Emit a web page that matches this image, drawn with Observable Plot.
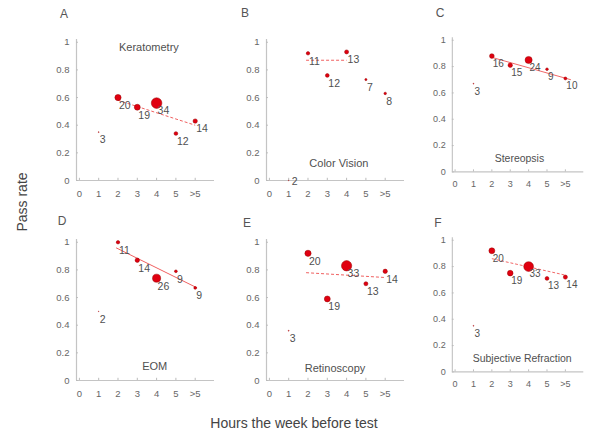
<!DOCTYPE html>
<html>
<head>
<meta charset="utf-8">
<script src="https://cdn.jsdelivr.net/npm/d3@7"></script>
<script src="https://cdn.jsdelivr.net/npm/@observablehq/plot@0.6"></script>
<style>
  html, body { margin: 0; padding: 0; background: #fff; overflow: hidden; }
  #root { position: relative; width: 589px; height: 434px; font-family: "Liberation Sans", Arial, sans-serif; }
  .panel { position: absolute; }
  .lbl { position: absolute; color: #555; font-size: 12px; transform: translate(-50%, -50%); white-space: nowrap; }
  .title { position: absolute; color: #444; font-size: 14px; transform: translate(-50%, -50%); white-space: nowrap; }
</style>
</head>
<body>
<div id="root"></div>
<script>
// ---- data ----
const panelLetters = ["A", "B", "C", "D", "E", "F"];
const panelTitles = ["Keratometry", "Color Vision", "Stereopsis", "EOM", "Retinoscopy", "Subjective Refraction"];
const hours = [1, 2, 3, 4, 5, 6];
const xTicks = [0, 1, 2, 3, 4, 5, 6];
const xTickLabels = ["0", "1", "2", "3", "4", "5", ">5"];
const yTicks = [0, 0.2, 0.4, 0.6, 0.8, 1];
const yTickLabels = ["0", "0.2", "0.4", "0.6", "0.8", "1"];

const passA = [0.35, 0.60, 0.53, 0.56, 0.34, 0.43];
const countA = [3, 20, 19, 34, 12, 14];
const passB = [0.00, 0.92, 0.76, 0.93, 0.73, 0.63];
const countB = [2, 11, 12, 13, 7, 8];
const passC = [0.67, 0.88, 0.81, 0.85, 0.78, 0.71];
const countC = [3, 16, 15, 24, 9, 10];
const passD = [0.50, 1.00, 0.87, 0.74, 0.79, 0.67];
const countD = [2, 11, 14, 26, 9, 9];
const passE = [0.36, 0.92, 0.59, 0.83, 0.70, 0.79];
const countE = [3, 20, 19, 33, 13, 14];
const passF = [0.35, 0.92, 0.75, 0.80, 0.71, 0.72];
const countF = [3, 20, 19, 33, 13, 14];

// fitted trend lines (start/end hours and pass rates)
const fitX1 = [2, 1.9, 2, 1.9, 1.9, 2];
const fitY1 = [0.58, 0.87, 0.87, 0.96, 0.78, 0.86];
const fitX2 = [6, 4, 6.3, 6.1, 6, 6];
const fitY2 = [0.40, 0.87, 0.70, 0.67, 0.745, 0.735];

const passAll = [passA, passB, passC, passD, passE, passF];
const countAll = [countA, countB, countC, countD, countE, countF];

// ---- layout ----
const panelLeft = [52, 242, 429, 52, 242, 429];
const panelTop = [0, 0, 0, 200, 200, 200];
const titlePos = [[3.6, 0.96], [3.6, 0.12], [3.5, 0.10], [3.9, 0.10], [3.4, 0.085], [3.65, 0.10]];
const titleDash = [true, true, false, false, true, true];
const letterPos = [[64, 14], [245, 13], [440, 13], [62, 221], [247, 223], [438, 223]];

const root = document.getElementById("root");
const xMin = -0.15;

for (let i = 0; i < 6; i++) {
  const data = hours.map((h, j) => ({h, p: passAll[i][j], n: countAll[i][j]}));
  const fit = [{x1: fitX1[i], y1: fitY1[i], x2: fitX2[i], y2: fitY2[i]}];
  const chart = Plot.plot({
    width: 168,
    height: 200,
    marginLeft: 24,
    marginRight: 6,
    marginTop: 39,
    marginBottom: 20,
    style: {fontFamily: "'Liberation Sans', Arial, sans-serif", background: "transparent", overflow: "visible"},
    x: {domain: [xMin, 7], axis: null},
    y: {domain: [0, 1.02], axis: null},
    r: {type: "linear", domain: [0, 34], range: [0, 5.3]},
    marks: [
      Plot.ruleY([0], {x1: xMin, x2: 7, stroke: "#c4c4c4", strokeWidth: 1.2}),
      Plot.ruleX([xMin], {y1: 0, y2: 1.02, stroke: "#c4c4c4", strokeWidth: 1.2}),
      Plot.ruleY(yTicks, {y: d => d, x1: xMin, x2: xMin + 0.1, stroke: "#bbb"}),
      Plot.ruleX(xTicks, {x: d => d, y1: 0, y2: 0.016, stroke: "#bbb"}),
      Plot.text(yTicks, {x: xMin, y: d => d, text: (d, k) => yTickLabels[k], dx: -7, textAnchor: "end", fill: "#666", fontSize: 9.5}),
      Plot.text(xTicks, {x: d => d, y: 0, text: (d, k) => xTickLabels[k], dy: 13, fill: "#666", fontSize: 9.5}),
      Plot.link(fit, {x1: "x1", y1: "y1", x2: "x2", y2: "y2", stroke: "#f06060", strokeWidth: 1, strokeDasharray: titleDash[i] ? "3,2" : null}),
      Plot.dot(data, {x: "h", y: "p", r: "n", fill: "#e00010", stroke: "#900", strokeWidth: 0.5}),
      Plot.text(data.filter(d => d.p > 0.05), {x: "h", y: "p", text: d => String(d.n), dx: 1, dy: 8, textAnchor: "start", fill: "#505050", fontSize: 10.5}),
      Plot.text(data.filter(d => d.p <= 0.05), {x: "h", y: "p", text: d => String(d.n), dx: 3, dy: 1, textAnchor: "start", fill: "#505050", fontSize: 10.5}),
      Plot.text([panelTitles[i]], {x: titlePos[i][0], y: titlePos[i][1], text: d => d, fill: "#505050", fontSize: 11})
    ]
  });
  const wrap = document.createElement("div");
  wrap.className = "panel";
  wrap.style.left = panelLeft[i] + "px";
  wrap.style.top = panelTop[i] + "px";
  wrap.appendChild(chart);
  root.appendChild(wrap);

  const L = document.createElement("div");
  L.className = "lbl";
  L.textContent = panelLetters[i];
  L.style.left = letterPos[i][0] + "px";
  L.style.top = letterPos[i][1] + "px";
  root.appendChild(L);
}

const yt = document.createElement("div");
yt.className = "title";
yt.textContent = "Pass rate";
yt.style.left = "22px";
yt.style.top = "202px";
yt.style.transform = "translate(-50%, -50%) rotate(-90deg)";
root.appendChild(yt);

const xt = document.createElement("div");
xt.className = "title";
xt.textContent = "Hours the week before test";
xt.style.left = "294px";
xt.style.top = "423px";
root.appendChild(xt);
</script>
</body>
</html>
